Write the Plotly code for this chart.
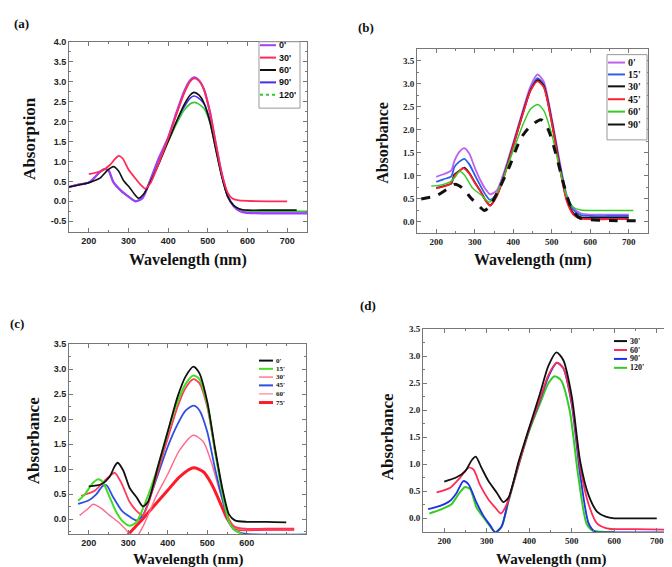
import plotly.graph_objects as go

W, H = 672, 567

# ---------------- panel (a): absorption vs wavelength ----------------
A_NAMES = ["0'", "30'", "60'", "90'", "120'"]
A_COLORS = ["#a040ff", "#ff2a55", "#111111", "#4a2cf0", "#2ecc2e"]

A_X_0 = [150, 175, 200, 215, 228, 240, 250, 262, 283, 300, 318, 335, 350, 375, 400, 420, 440, 455, 465,
         475, 490, 505, 520, 535, 550, 565, 580, 600, 650, 750]
A_Y_0 = [0.36, 0.42, 0.47, 0.60, 0.74, 0.81, 0.77, 0.48, 0.25, 0.12, 0.0, 0.08, 0.40, 1.05, 1.60, 2.20,
         2.75, 3.03, 3.11, 3.06, 2.82, 2.25, 1.45, 0.70, 0.15, -0.12, -0.24, -0.29, -0.30, -0.30]
A_X_30 = [200, 232, 253, 265, 275, 285, 300, 317, 330, 342, 355, 380, 400, 420, 440, 455, 465, 478, 490,
          505, 520, 535, 550, 562, 575, 600, 650, 700]
A_Y_30 = [0.68, 0.76, 0.91, 1.05, 1.14, 1.08, 0.80, 0.58, 0.42, 0.32, 0.45, 1.05, 1.58, 2.15, 2.70, 3.00,
          3.08, 3.02, 2.80, 2.25, 1.45, 0.70, 0.22, 0.07, 0.03, 0.01, 0.0, 0.0]
A_X_60 = [150, 175, 198, 215, 228, 245, 262, 275, 287, 304, 315, 325, 338, 355, 380, 400, 420, 440, 455,
          465, 478, 490, 505, 520, 535, 550, 565, 580, 600, 650, 724]
A_Y_60 = [0.36, 0.41, 0.46, 0.52, 0.58, 0.76, 0.87, 0.76, 0.53, 0.33, 0.18, 0.08, 0.18, 0.48, 1.02, 1.50,
          1.98, 2.42, 2.66, 2.73, 2.66, 2.47, 2.00, 1.30, 0.62, 0.12, -0.10, -0.19, -0.22, -0.22, -0.22]
A_X_90 = A_X_0
A_Y_90 = [0.36, 0.42, 0.47, 0.60, 0.74, 0.81, 0.77, 0.48, 0.25, 0.12, 0.0, 0.08, 0.40, 1.02, 1.52, 1.97,
          2.36, 2.58, 2.64, 2.60, 2.45, 2.05, 1.35, 0.65, 0.12, -0.12, -0.24, -0.29, -0.30, -0.30]
A_X_120 = A_X_0
A_Y_120 = [0.36, 0.42, 0.47, 0.60, 0.74, 0.80, 0.76, 0.47, 0.24, 0.12, 0.01, 0.09, 0.42, 1.02, 1.50, 1.92,
           2.28, 2.44, 2.48, 2.45, 2.33, 1.98, 1.32, 0.65, 0.13, -0.10, -0.20, -0.24, -0.25, -0.25]

# ---------------- panel (b) ----------------
B_NAMES = ["0'", "15'", "30'", "45'", "60'", "90'"]
B_COLORS = ["#c060f0", "#2f5fe8", "#111111", "#ff1f2f", "#33cc22", "#111111"]

B_X_MAIN = [200, 220, 239, 247, 260, 273, 286, 300, 315, 329, 340, 357, 376, 400, 427, 445, 463, 479, 500,
            522, 539, 556, 575, 600, 650, 700]
B_Y_0 = [0.98, 1.04, 1.12, 1.32, 1.52, 1.60, 1.48, 1.18, 0.90, 0.70, 0.60, 0.68, 1.08, 1.72, 2.48, 2.95,
         3.20, 3.05, 2.25, 1.25, 0.58, 0.30, 0.19, 0.16, 0.16, 0.16]
B_Y_15 = [0.87, 0.93, 0.99, 1.19, 1.31, 1.37, 1.25, 1.02, 0.78, 0.58, 0.48, 0.60, 1.02, 1.68, 2.43, 2.88,
          3.12, 2.98, 2.20, 1.20, 0.54, 0.26, 0.15, 0.13, 0.13, 0.13]
B_Y_30 = [0.74, 0.78, 0.83, 1.03, 1.11, 1.18, 1.06, 0.86, 0.67, 0.46, 0.36, 0.57, 1.00, 1.66, 2.42, 2.86,
          3.08, 2.95, 2.17, 1.14, 0.48, 0.19, 0.10, 0.09, 0.09, 0.09]
B_X_45 = [200, 220, 236, 249, 260, 269, 286, 300, 315, 329, 340, 357, 376, 400, 427, 445, 463, 479, 500,
          522, 539, 556, 575, 600, 650, 700]
B_Y_45 = [0.73, 0.77, 0.82, 1.02, 1.10, 1.17, 1.05, 0.85, 0.66, 0.45, 0.35, 0.55, 0.98, 1.65, 2.40, 2.85,
          3.05, 2.93, 2.15, 1.12, 0.45, 0.16, 0.07, 0.06, 0.06, 0.06]
B_X_60 = [187, 210, 236, 250, 260, 273, 295, 316, 338, 357, 376, 400, 427, 445, 463, 479, 500, 522, 539,
          556, 575, 600, 650, 712]
B_Y_60 = [0.78, 0.80, 0.87, 0.98, 1.10, 1.02, 0.73, 0.59, 0.43, 0.62, 1.00, 1.55, 2.15, 2.45, 2.55, 2.42,
          1.90, 1.10, 0.55, 0.32, 0.26, 0.25, 0.25, 0.25]
B_X_90 = [161, 200, 226, 249, 269, 290, 312, 325, 338, 364, 390, 420, 445, 472, 490, 510, 530, 550, 570,
          600, 650, 742]
B_Y_90 = [0.50, 0.57, 0.70, 0.82, 0.73, 0.52, 0.34, 0.25, 0.33, 0.73, 1.20, 1.82, 2.08, 2.22, 2.02, 1.50,
          0.85, 0.32, 0.10, 0.05, 0.03, 0.03]

# ---------------- panel (c) ----------------
C_NAMES = ["0'", "15'", "30'", "45'", "60'", "75'"]
C_COLORS = ["#111111", "#44dd22", "#ff3a5a", "#2f4fe0", "#ff6a8a", "#ff1a2a"]

C_X_0 = [200, 232, 253, 265, 273, 287, 304, 321, 337, 350, 375, 400, 425, 445, 465, 480, 500, 520, 540,
         555, 570, 600, 650, 700]
C_Y_0 = [0.66, 0.70, 0.85, 1.05, 1.13, 0.98, 0.62, 0.44, 0.26, 0.35, 1.05, 1.75, 2.45, 2.85, 3.05, 2.92,
         2.35, 1.40, 0.55, 0.10, -0.02, -0.05, -0.05, -0.06]
C_X_15 = [173, 190, 211, 224, 236, 253, 270, 287, 304, 321, 342, 375, 400, 425, 445, 465, 480, 500, 520,
          540, 555, 570, 590]
C_Y_15 = [0.37, 0.50, 0.73, 0.80, 0.74, 0.44, 0.14, -0.05, -0.13, -0.05, 0.31, 1.05, 1.75, 2.35, 2.70,
          2.87, 2.80, 2.30, 1.35, 0.45, -0.05, -0.22, -0.30]
C_X_30 = [181, 215, 240, 255, 266, 283, 304, 325, 337, 350, 375, 400, 425, 445, 465, 480, 500, 520, 540,
          555, 570, 600, 650, 720]
C_Y_30 = [0.47, 0.57, 0.77, 0.88, 0.93, 0.72, 0.34, 0.14, 0.08, 0.30, 0.95, 1.62, 2.25, 2.62, 2.80, 2.72,
          2.25, 1.35, 0.50, 0.0, -0.15, -0.19, -0.20, -0.20]
C_X_45 = [173, 198, 219, 236, 245, 262, 283, 304, 321, 337, 360, 400, 425, 445, 465, 480, 500, 520, 540,
          555, 570, 600, 750]
C_Y_45 = [0.31, 0.37, 0.50, 0.67, 0.68, 0.44, 0.18, 0.05, -0.02, 0.08, 0.55, 1.45, 1.90, 2.17, 2.27, 2.18,
          1.75, 1.00, 0.35, -0.05, -0.22, -0.29, -0.30]
C_X_60 = [177, 198, 210, 219, 232, 253, 274, 291, 304, 316, 340, 370, 400, 430, 465, 490, 510, 530, 550,
          565, 580, 650, 720]
C_Y_60 = [0.08, 0.21, 0.30, 0.28, 0.22, 0.08, -0.05, -0.18, -0.30, -0.40, -0.10, 0.45, 0.90, 1.38, 1.68,
          1.55, 1.15, 0.60, 0.10, -0.15, -0.20, -0.20, -0.20]
C_X_75 = [290, 300, 330, 360, 400, 430, 465, 490, 510, 530, 550, 565, 580, 650, 720]
C_Y_75 = [-0.40, -0.30, -0.05, 0.22, 0.58, 0.85, 1.03, 0.95, 0.72, 0.38, 0.02, -0.15, -0.20, -0.20, -0.20]

# ---------------- panel (d) ----------------
D_NAMES = ["30'", "60'", "90'", "120'"]
D_COLORS = ["#111111", "#ff2a55", "#2030e8", "#33cc22"]

D_X_30 = [200, 229, 249, 265, 274, 288, 304, 324, 339, 351, 375, 400, 425, 445, 464, 480, 500, 520, 540,
          560, 580, 600, 650, 700]
D_Y_30 = [0.68, 0.76, 0.87, 1.08, 1.14, 0.93, 0.69, 0.47, 0.30, 0.38, 1.05, 1.68, 2.30, 2.82, 3.07, 2.93,
          2.26, 1.05, 0.42, 0.12, 0.03, 0.0, 0.0, 0.0]
D_X_60 = [182, 213, 237, 257, 269, 284, 304, 320, 333, 347, 375, 400, 425, 445, 465, 480, 500, 520, 540,
          560, 580, 600, 650, 718]
D_Y_60 = [0.48, 0.56, 0.75, 0.94, 0.90, 0.62, 0.35, 0.20, 0.09, 0.26, 1.00, 1.65, 2.20, 2.65, 2.88, 2.78,
          2.15, 0.95, 0.25, -0.10, -0.18, -0.20, -0.20, -0.21]
D_X_90 = [162, 190, 213, 229, 245, 257, 276, 292, 308, 320, 335, 350, 375, 400, 425, 445, 465, 480, 500,
          520, 540, 555, 580, 650, 750]
D_Y_90 = [0.17, 0.23, 0.32, 0.47, 0.69, 0.63, 0.29, 0.05, -0.13, -0.26, -0.15, 0.30, 1.00, 1.65, 2.18,
          2.62, 2.88, 2.78, 2.10, 0.80, -0.10, -0.25, -0.26, -0.26, -0.26]
D_X_120 = [165, 194, 217, 233, 249, 261, 276, 292, 308, 320, 335, 350, 375, 400, 425, 445, 460, 475, 495,
           515, 535, 550, 570, 600]
D_Y_120 = [0.09, 0.17, 0.26, 0.44, 0.58, 0.54, 0.20, 0.02, -0.15, -0.26, -0.15, 0.28, 0.98, 1.62, 2.12,
           2.50, 2.63, 2.55, 2.00, 0.80, -0.10, -0.23, -0.25, -0.25]

SERIF = "Liberation Serif, Times New Roman, serif"
SANS = "Liberation Sans, Arial, sans-serif"


def fx(p):
    return p / W


def fy(p):
    return 1 - p / H


fig = go.Figure()


def line(xs, ys, color, sub, width=1.6, dash="solid"):
    fig.add_trace(go.Scatter(x=xs, y=ys, mode="lines", xaxis="x" + sub, yaxis="y" + sub,
                             line=dict(color=color, width=width, dash=dash, shape="spline", smoothing=0.7),
                             showlegend=False, hoverinfo="skip"))


# (a) -- draw order so the top trace is red over violet
line(A_X_90, A_Y_90, A_COLORS[3], "")
line(A_X_120, A_Y_120, A_COLORS[4], "")
line(A_X_0, A_Y_0, A_COLORS[0], "", width=2.2)
line(A_X_60, A_Y_60, A_COLORS[2], "")
line(A_X_30, A_Y_30, A_COLORS[1], "", width=1.8)

# (b)
line(B_X_MAIN, B_Y_0, B_COLORS[0], "2", width=1.8)
line(B_X_MAIN, B_Y_15, B_COLORS[1], "2", width=1.8)
line(B_X_MAIN, B_Y_30, B_COLORS[2], "2", width=1.8)
line(B_X_45, B_Y_45, B_COLORS[3], "2", width=1.8)
line(B_X_60, B_Y_60, B_COLORS[4], "2", width=1.4)
line(B_X_90, B_Y_90, B_COLORS[5], "2", width=3, dash="dash")

# (c)
line(C_X_75, C_Y_75, C_COLORS[5], "3", width=3)
line(C_X_60, C_Y_60, C_COLORS[4], "3", width=1.4)
line(C_X_45, C_Y_45, C_COLORS[3], "3", width=1.8)
line(C_X_30, C_Y_30, C_COLORS[2], "3", width=1.8)
line(C_X_15, C_Y_15, C_COLORS[1], "3", width=2)
line(C_X_0, C_Y_0, C_COLORS[0], "3", width=1.8)

# (d)
line(D_X_120, D_Y_120, D_COLORS[3], "4", width=2)
line(D_X_90, D_Y_90, D_COLORS[2], "4", width=1.8)
line(D_X_60, D_Y_60, D_COLORS[1], "4", width=1.8)
line(D_X_30, D_Y_30, D_COLORS[0], "4", width=1.8)


def axis(dom, anchor, rng, tickvals, fmt, font, minor_dtick):
    return dict(domain=dom, anchor=anchor, range=rng, tickvals=tickvals,
                ticktext=[fmt.format(v) for v in tickvals],
                showline=True, linecolor="#777", linewidth=1, mirror="ticks",
                ticks="inside", ticklen=4, tickcolor="#777", showgrid=False, zeroline=False,
                tickfont=dict(family=font, size=9, color="#222", weight="bold"),
                minor=dict(ticks="inside", ticklen=2, tickcolor="#777", dtick=minor_dtick, showgrid=False))


XT = [200, 300, 400, 500, 600, 700]
fig.update_layout(
    xaxis=axis([fx(61), fx(299)], "y", [150, 750], XT, "{:d}", SANS, 50),
    yaxis=axis([fy(221), fy(29)], "x", [-0.77, 4.0], [-0.5 + 0.5 * i for i in range(10)], "{:.1f}", SANS, 0.25),
    xaxis2=axis([fx(409), fx(640)], "y2", [150, 750], XT, "{:d}", SERIF, 50),
    yaxis2=axis([fy(222), fy(36)], "x2", [-0.24, 3.76], [0.5 * i for i in range(8)], "{:.1f}", SERIF, 0.25),
    xaxis3=axis([fx(61), fx(298)], "y3", [150, 750], XT[:-1], "{:d}", SANS, 50),
    yaxis3=axis([fy(526), fy(334)], "x3", [-0.3, 3.5], [0.5 * i for i in range(8)], "{:.1f}", SANS, 0.25),
    xaxis4=axis([fx(415), fx(670)], "y4", [150, 750], XT, "{:d}", SERIF, 50),
    yaxis4=axis([fy(524), fy(319)], "x4", [-0.26, 3.5], [0.5 * i for i in range(8)], "{:.1f}", SERIF, 0.25),
    width=W, height=H, margin=dict(l=0, r=0, t=0, b=0),
    paper_bgcolor="white", plot_bgcolor="white", showlegend=False,
)

ann = []
shapes = []


def text(x, y, s, size, font=SERIF, angle=0, xanchor="center", color="#111", pad=1):
    ann.append(dict(x=fx(x), y=fy(y), xref="paper", yref="paper", text=s, showarrow=False,
                    textangle=angle, xanchor=xanchor, yanchor="middle", borderpad=pad,
                    font=dict(family=font, size=size, color=color, weight="bold")))


# panel labels
text(13, 11, "(a)", 13)
text(358, 15, "(b)", 13)
text(9, 313, "(c)", 13)
text(360, 295, "(d)", 13)

# axis titles
text(22, 127, "Absorption", 17, angle=-90)
text(180, 249, "Wavelength (nm)", 16)
text(375, 131, "Absorbance", 16, angle=-90)
text(525, 249, "Wavelength (nm)", 16)
text(25, 432, "Absorbance", 17, angle=-90)
text(180, 551, "Wavelength (nm)", 15, pad=0)
text(379, 428, "Absorbance", 17, angle=-90)
text(543, 551, "Wavelength (nm)", 15, pad=0)


def legend(names, colors, x0, x1, ys, size, font, widths=None, dashes=None, box=None):
    if box:
        shapes.append(dict(type="rect", xref="paper", yref="paper", x0=fx(box[0]), x1=fx(box[1]),
                           y0=fy(box[3]), y1=fy(box[2]), line=dict(color="#999", width=1),
                           fillcolor="white", layer="above"))
    for i, (n, c) in enumerate(zip(names, colors)):
        w = widths[i] if widths else 2
        d = dashes[i] if dashes else "solid"
        shapes.append(dict(type="line", xref="paper", yref="paper", x0=fx(x0), x1=fx(x1),
                           y0=fy(ys[i]), y1=fy(ys[i]), line=dict(color=c, width=w, dash=d), layer="above"))
        text(x1 + 1, ys[i], n, size, font=font, xanchor="left")


legend(A_NAMES, A_COLORS, 252, 268, [32.5, 45, 57.5, 70, 82.5], 9, SANS,
       dashes=["solid", "solid", "solid", "solid", "dot"], box=(251, 292, 29, 96))
legend(B_NAMES, B_COLORS, 600, 617, [50, 62, 74, 87, 99.5, 112.5], 10, SERIF, box=(599, 639, 42, 128))
legend(C_NAMES, C_COLORS, 251, 265, [350.7, 359, 367.3, 375.7, 384.3, 393], 7, SERIF,
       widths=[2, 2, 1, 2, 1, 3])
legend(D_NAMES, D_COLORS, 606, 619, [331, 340, 349, 358], 8, SERIF)

fig.update_layout(annotations=ann, shapes=shapes)
fig.write_html("out.html")
